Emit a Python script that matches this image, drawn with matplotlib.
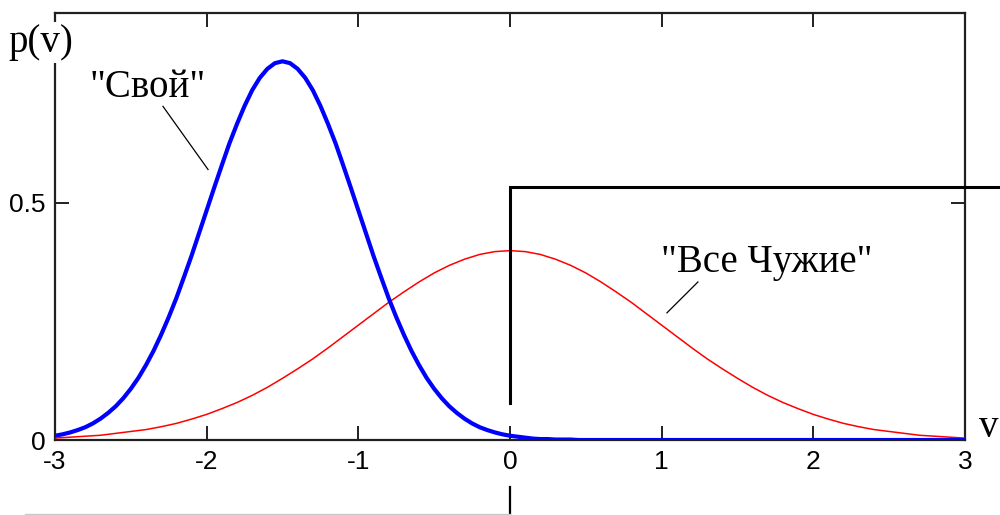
import matplotlib.pyplot as plt
import numpy as np

plt.rcParams['axes.unicode_minus'] = False

# "Свой" density on a 0.05 grid (narrow, centred near -1.5)
v_own = np.round(np.arange(-3.0, 3.0001, 0.05), 2)
p_own = [0.009, 0.012, 0.016, 0.021, 0.027, 0.035, 0.045, 0.057, 0.071, 0.088,
         0.108, 0.131, 0.158, 0.188, 0.222, 0.259, 0.299, 0.343, 0.388, 0.436,
         0.484, 0.532, 0.579, 0.625, 0.666, 0.704, 0.737, 0.763, 0.782, 0.794,
         0.798,
         0.794, 0.782, 0.763, 0.737, 0.704, 0.666, 0.625, 0.579, 0.532, 0.484,
         0.436, 0.388, 0.343, 0.299, 0.259, 0.222, 0.188, 0.158, 0.131, 0.108,
         0.088, 0.071, 0.057, 0.045, 0.035, 0.027, 0.021, 0.016, 0.012, 0.009,
         0.007, 0.005, 0.003, 0.002, 0.002, 0.001, 0.001, 0.001, 0.0, 0.0,
         0.0, 0.0, 0.0, 0.0, 0.0, 0.0, 0.0, 0.0, 0.0, 0.0,
         0.0, 0.0, 0.0, 0.0, 0.0, 0.0, 0.0, 0.0, 0.0, 0.0,
         0.0, 0.0, 0.0, 0.0, 0.0, 0.0, 0.0, 0.0, 0.0, 0.0,
         0.0, 0.0, 0.0, 0.0, 0.0, 0.0, 0.0, 0.0, 0.0, 0.0,
         0.0, 0.0, 0.0, 0.0, 0.0, 0.0, 0.0, 0.0, 0.0, 0.0]

# "Все Чужие" density on a 0.1 grid (wide, centred at 0)
v_alien = np.round(np.arange(-3.0, 3.0001, 0.1), 1)
p_alien = [0.004, 0.006, 0.008, 0.010, 0.014, 0.018, 0.022, 0.028, 0.035, 0.044,
           0.054, 0.066, 0.079, 0.094, 0.111, 0.130, 0.150, 0.171, 0.194, 0.218,
           0.242, 0.266, 0.290, 0.312, 0.333, 0.352, 0.368, 0.381, 0.391, 0.397,
           0.399, 0.397, 0.391, 0.381, 0.368, 0.352, 0.333, 0.312, 0.290, 0.266,
           0.242, 0.218, 0.194, 0.171, 0.150, 0.130, 0.111, 0.094, 0.079, 0.066,
           0.054, 0.044, 0.035, 0.028, 0.022, 0.018, 0.014, 0.010, 0.008, 0.006, 0.004]

# threshold step: level left of 0 and right of 0
thr_x = 0.0
thr_low = -0.155
thr_high = 0.533

xticks = [-3, -2, -1, 0, 1, 2, 3]
yticks = [0, 0.5]
ytick_labels = ['0', '0.5']

fig = plt.figure(figsize=(10, 5.15), dpi=100)
ax = fig.add_axes([0.055, 0.1456, 0.91, 0.8294])
ax.set_xlim(-3, 3)
ax.set_ylim(0, 0.9)

ax.plot(v_alien, p_alien, color='red', lw=1.1, zorder=3)
ax.plot(v_own, p_own, color='blue', lw=3, zorder=4)

# threshold line, drawn past the frame
ax.plot([thr_x, thr_x, 3.6], [0.078, thr_high, thr_high], color='black',
        lw=2.2, clip_on=False, solid_joinstyle='miter', zorder=5)
ax.plot([thr_x, thr_x], [-0.1, thr_low], color='black', lw=1.6,
        clip_on=False, zorder=5)
ax.plot([-3.2, thr_x], [thr_low, thr_low], color='#c8c8c8', lw=1,
        clip_on=False, zorder=5)

for s in ax.spines.values():
    s.set_linewidth(1.6)
    s.set_color('#202020')
ax.set_xticks(xticks)
ax.set_yticks(yticks, ytick_labels)
ax.tick_params(direction='in', length=10, width=1.4, top=True, right=True,
               labelsize=19, pad=7, color='#202020')
for lab in ax.get_xticklabels() + ax.get_yticklabels():
    lab.set_family('Liberation Sans')

# leader lines and labels
ax.plot([-2.288, -1.991], [0.703, 0.570], color='black', lw=0.9)
ax.plot([1.035, 1.239], [0.268, 0.333], color='black', lw=0.9)
ax.text(-2.39, 0.722, '"Свой"', family='Liberation Serif', fontsize=28,
        ha='center', va='baseline')
ax.text(1.695, 0.354, '"Все Чужие"', family='Liberation Serif', fontsize=28,
        ha='center', va='baseline')

fig.text(0.041, 0.899, 'p(v)', family='Liberation Serif', fontsize=28,
         ha='center', va='baseline',
         bbox=dict(facecolor='white', edgecolor='none', pad=1))
fig.text(0.979, 0.152, 'v', family='Liberation Serif', fontsize=28,
         ha='left', va='baseline')

fig.savefig('out.png', dpi=100)
